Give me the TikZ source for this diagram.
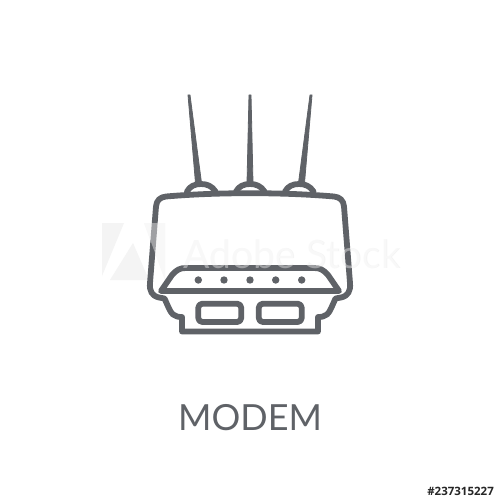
\documentclass[tikz,border=0pt]{standalone}
\usepackage{fontspec}
\setmainfont{Lato}
\newfontfamily\idfont{Open Sans}
\definecolor{ink}{HTML}{5F6267}
\definecolor{glow}{HTML}{F4F4F4}
\tikzset{
  iconline/.style={draw=ink,line width=5.8pt,line join=round,line cap=round},
  antenna/.style={fill=ink,draw=ink,line width=0.8pt,line join=round},
  led/.style={circle,fill=ink,inner sep=0pt,minimum size=7.4pt}
}
\begin{document}
\begin{tikzpicture}[x=1pt,y=-1pt]
\useasboundingbox (0,0) rectangle (500,500);
\fill[white] (0,0) rectangle (500,500);
% watermark glow
\fill[glow] (102,223) -- (124,223) -- (102,276) -- cycle;
\fill[glow] (144,223) -- (165,223) -- (165,280) -- cycle;
\fill[glow] (133,243) -- (149,280) -- (110,280) -- cycle;
\node[font=\fontsize{39}{39}\selectfont,text=glow,anchor=base west,inner sep=0pt] (wmshadow) at (183.6,268.6) {Adobe Stock};
% antennas
\fill[antenna] (188,95) -- (190,95) -- (201.5,183) -- (195.5,183) -- cycle;
\fill[antenna] (249,95) -- (251,95) -- (253,183) -- (247,183) -- cycle;
\fill[antenna] (310,95) -- (312,95) -- (304.5,183) -- (298.5,183) -- cycle;
% domes
\draw[iconline] (187,191.5) .. controls (190,186) and (195,184) .. (201,184) .. controls (207,184) and (212,186) .. (215.5,191.5);
\draw[iconline] (236,191.5) .. controls (239,186) and (244,184) .. (250,184) .. controls (256,184) and (261,186) .. (264.5,191.5);
\draw[iconline] (285,191.5) .. controls (288,186) and (293,184) .. (299,184) .. controls (305,184) and (310,186) .. (313.5,191.5);
% body
\draw[iconline]
 (166,196.5) .. controls (195,194) and (225,193.2) .. (250,193.2)
 .. controls (275,193.2) and (305,194) .. (334,196.5)
 .. controls (340,197.1) and (343.5,200.5) .. (344,206.5)
 -- (350,283) .. controls (350.8,291) and (348,296) .. (341,297.5)
 -- (335.5,298.5)
 .. controls (332,306) and (330,312) .. (327,314.5)
 .. controls (324,316.5) and (322,317) .. (318,317)
 -- (318,331.5) -- (182,331.5) -- (182,317)
 .. controls (178,317) and (176,316.5) .. (173,314.5)
 .. controls (170,312) and (168,306) .. (164.5,298.5)
 -- (159,297.5)
 .. controls (152,296) and (149.2,291) .. (150,283)
 -- (156,206.5)
 .. controls (156.5,200.5) and (160,197.1) .. (166,196.5) -- cycle;
% panel
\draw[iconline]
 (161,291) -- (339,291)
 -- (328,275) .. controls (323,269.5) and (320,268) .. (314,268)
 -- (186,268) .. controls (180,268) and (177,269.5) .. (172,275) -- cycle;
% leds
\node[led] (l1) at (198.3,280) {};
\node[led] (l2) at (224,280) {};
\node[led] (l3) at (250,280) {};
\node[led] (l4) at (275.7,280) {};
\node[led] (l5) at (301.7,280) {};
% ports
\draw[iconline,rounded corners=4pt] (198.3,303.7) rectangle (241.2,322);
\draw[iconline,rounded corners=4pt] (258.8,303.7) rectangle (301.7,322);
% watermark over the lines
\begin{scope}[opacity=0.4]
\fill[white] (144,223) -- (165,223) -- (165,280) -- cycle;
\node[font=\fontsize{39}{39}\selectfont,text=white,anchor=base west,inner sep=0pt] (wmtext) at (183,268) {Adobe Stock};
\end{scope}
% labels
\node[font=\fontsize{36}{36}\selectfont,text=ink,anchor=base,inner sep=0pt] (title) at (250,430) {MODEM};
\node[font=\idfont\bfseries\fontsize{11.5}{11.5}\selectfont,text=black!85,anchor=base east,inner sep=0pt] (stock) at (494,495) {\#237315227};
\end{tikzpicture}
\end{document}
